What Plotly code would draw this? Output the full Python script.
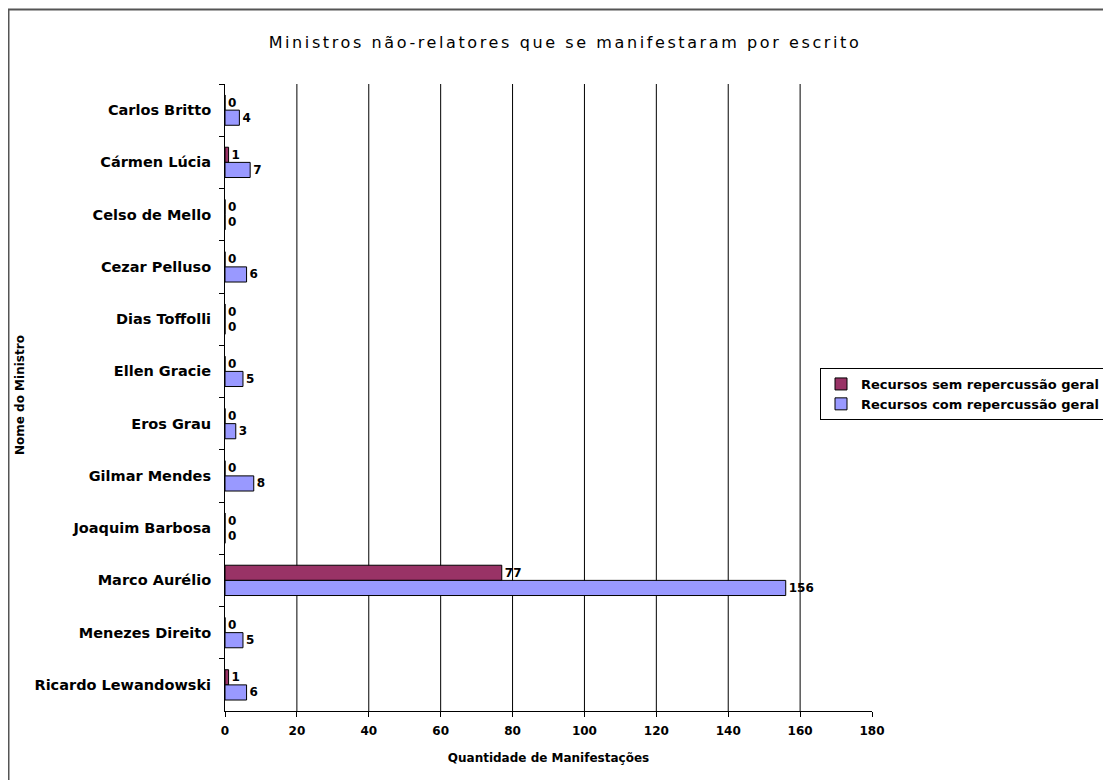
import plotly.graph_objects as go

ministros = ["Carlos Britto", "Cármen Lúcia", "Celso de Mello", "Cezar Pelluso",
             "Dias Toffolli", "Ellen Gracie", "Eros Grau", "Gilmar Mendes",
             "Joaquim Barbosa", "Marco Aurélio", "Menezes Direito", "Ricardo Lewandowski"]
sem_rg = [0, 1, 0, 0, 0, 0, 0, 0, 0, 77, 0, 1]
com_rg = [4, 7, 0, 6, 0, 5, 3, 8, 0, 156, 5, 6]
x_ticks = [0, 20, 40, 60, 80, 100, 120, 140, 160, 180]

# figure is drawn at page offset (8, 8)
W, H = 1111, 780
L, R, T, B = 217, 864, 76, 703
pw, ph = R - L, B - T


def px(x):
    return (x - L) / pw


def py(y):
    return (B - y) / ph


lbl_font = dict(family="DejaVu Sans", size=12, color="black", weight="bold")

fig = go.Figure()
fig.add_trace(go.Bar(
    y=ministros, x=sem_rg, orientation="h", name="Recursos sem repercussão geral",
    marker=dict(color="#993366", line=dict(color="black", width=1)),
    text=sem_rg, textposition="outside", textfont=lbl_font, cliponaxis=False,
))
fig.add_trace(go.Bar(
    y=ministros, x=com_rg, orientation="h", name="Recursos com repercussão geral",
    marker=dict(color="#9999FF", line=dict(color="black", width=1)),
    text=com_rg, textposition="outside", textfont=lbl_font, cliponaxis=False,
))

# vertical gridlines (excluding the axis at 0 and the edge at 180)
for v in x_ticks[1:-1]:
    fig.add_shape(type="line", xref="x", yref="paper", x0=v, x1=v, y0=0, y1=1,
                  line=dict(color="black", width=1), layer="below")

# outer chart frame
fig.add_shape(type="rect", xref="paper", yref="paper",
              x0=px(0.5), x1=px(1130), y0=py(800), y1=py(1.5),
              line=dict(color="#555555", width=2), fillcolor="rgba(0,0,0,0)", layer="below")

# y axis title
fig.add_annotation(text="Nome do Ministro", xref="paper", yref="paper",
                   x=px(12), y=py(387), textangle=-90, showarrow=False,
                   xanchor="center", yanchor="middle",
                   font=dict(family="DejaVu Sans", size=12, color="black", weight="bold"))

fig.update_layout(
    width=W, height=H,
    margin=dict(l=L, r=W - R, t=T, b=H - B, autoexpand=False),
    paper_bgcolor="white", plot_bgcolor="white",
    barmode="group", bargap=0.42, bargroupgap=0,
    title=dict(text='<span style="letter-spacing:2.6px">Ministros não-relatores que se manifestaram por escrito</span>',
               x=557 / W, xanchor="center", y=1 - 34 / H, yanchor="middle",
               font=dict(family="DejaVu Sans", size=16, color="black")),
    showlegend=True,
    legend=dict(x=px(812), y=py(360), xanchor="left", yanchor="top",
                traceorder="normal", bordercolor="black", borderwidth=1,
                bgcolor="white", tracegroupgap=0, itemwidth=30,
                font=dict(family="DejaVu Sans", size=13, color="black", weight="bold")),
    font=dict(family="DejaVu Sans", color="black"),
)
fig.update_xaxes(
    range=[0, 180], tickvals=x_ticks, showgrid=False, zeroline=False,
    showline=True, linecolor="black", linewidth=1,
    ticks="outside", ticklen=5, tickcolor="black", ticklabelstandoff=4,
    tickfont=dict(family="DejaVu Sans", size=12, color="black", weight="bold"),
    title=dict(text="Quantidade de Manifestações", standoff=16,
               font=dict(family="DejaVu Sans", size=12, color="black", weight="bold")),
)
fig.update_yaxes(
    autorange="reversed", type="category", showgrid=False, zeroline=False,
    showline=True, linecolor="black", linewidth=1,
    ticks="outside", ticklen=5, tickcolor="black", tickson="boundaries",
    ticklabelstandoff=10,
    tickfont=dict(family="DejaVu Sans", size=14.5, color="black", weight="bold"),
)

fig.write_html("out.html")
